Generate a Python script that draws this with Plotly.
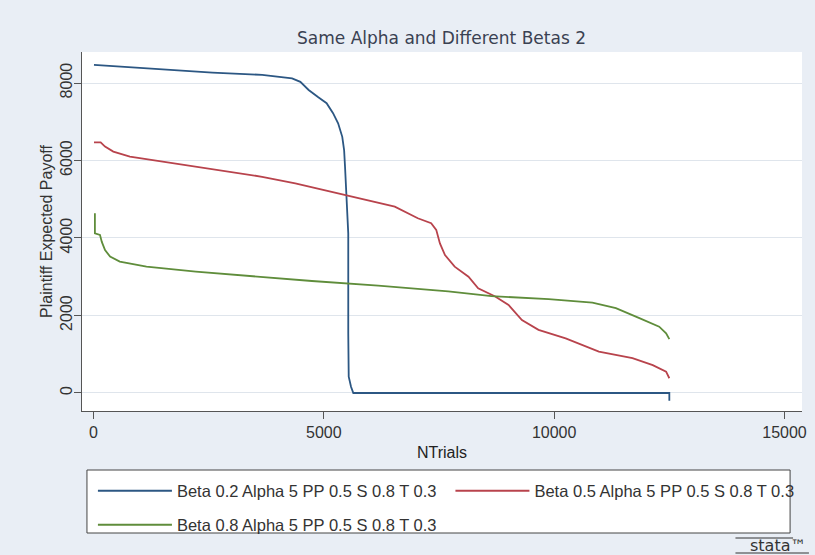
import plotly.graph_objects as go

# Plaintiff expected payoff by number of trials, three beta settings
ntrials_b02 = [10, 1150, 2580, 3660, 4310, 4490, 4670, 4880, 5060, 5200, 5310, 5400,
               5440, 5460, 5480, 5490, 5510, 5530, 5530, 5540, 5590, 5640, 12500, 12500]
payoff_b02 = [8470, 8380, 8270, 8210, 8120, 8030, 7820, 7630, 7480, 7220, 6960, 6610,
              6270, 5840, 5320, 4980, 4720, 4120, 1540, 420, 160, 0, 0, -200]

ntrials_b05 = [10, 155, 250, 430, 790, 1500, 2580, 3660, 4380, 5460, 6540, 7040, 7330,
               7440, 7520, 7630, 7840, 8140, 8350, 8720, 9010, 9300, 9660, 10250,
               10970, 11700, 12140, 12430, 12500]
payoff_b05 = [6470, 6470, 6360, 6230, 6100, 5970, 5760, 5580, 5410, 5110, 4810, 4510,
              4380, 4210, 3860, 3560, 3260, 3000, 2700, 2490, 2270, 1880, 1630, 1410,
              1070, 900, 720, 550, 380]

ntrials_b08 = [30, 30, 140, 180, 250, 360, 570, 1150, 2220, 3300, 4740, 6180, 6610,
               7700, 8640, 9880, 10830, 11340, 11850, 12280, 12430, 12500]
payoff_b08 = [4640, 4120, 4080, 3900, 3690, 3520, 3390, 3260, 3130, 3020, 2890, 2770,
              2730, 2620, 2500, 2420, 2330, 2190, 1930, 1710, 1540, 1390]

series_names = [
    "Beta 0.2 Alpha 5 PP 0.5 S 0.8 T 0.3",
    "Beta 0.5 Alpha 5 PP 0.5 S 0.8 T 0.3",
    "Beta 0.8 Alpha 5 PP 0.5 S 0.8 T 0.3",
]
series_colors = ["#2C5783", "#B8434C", "#5F8D3B"]

x_ticks = [0, 5000, 10000, 15000]
y_ticks = [0, 2000, 4000, 6000, 8000]

W, H = 815, 555
L, R, T, B = 82, 8, 52, 144
PW, PH = W - L - R, H - T - B


def px_x(p):
    return (p - L) / PW


def px_y(p):
    return (H - B - p) / PH


fig = go.Figure()
series = [(ntrials_b02, payoff_b02), (ntrials_b05, payoff_b05), (ntrials_b08, payoff_b08)]
legend_ids = ["legend", "legend2", "legend3"]
for (xs, ys), name, color, lg in zip(series, series_names, series_colors, legend_ids):
    fig.add_trace(go.Scatter(x=xs, y=ys, mode="lines", name=name,
                             line=dict(color=color, width=1.8), legend=lg))

axis_font = dict(family="Liberation Sans, Arial, sans-serif", size=16, color="#333333")
legend_font = dict(family="Liberation Sans, Arial, sans-serif", size=16.5, color="#333333")


def legend_box(px_left, px_mid):
    return dict(orientation="h", x=px_x(px_left), xanchor="left", y=px_y(px_mid),
                yanchor="middle", bgcolor="rgba(0,0,0,0)", borderwidth=0,
                font=legend_font, itemwidth=74)


fig.update_layout(
    width=W, height=H,
    margin=dict(l=L, r=R, t=T, b=B, pad=0),
    paper_bgcolor="#E9EEF5",
    plot_bgcolor="#FFFFFF",
    title=dict(text="Same Alpha and Different Betas 2", x=px_x(444), xref="paper",
               xanchor="center", y=1 - 38 / H, yanchor="middle",
               font=dict(family="DejaVu Sans, Verdana, sans-serif", size=17, color="#3A4152")),
    xaxis=dict(range=[-250, 15380], tickvals=x_ticks, ticktext=[str(v) for v in x_ticks],
               ticks="outside", ticklen=7, tickcolor="#555555", showline=True,
               linecolor="#555555", linewidth=1, showgrid=False, zeroline=False,
               tickfont=axis_font,
               title=dict(text="NTrials", standoff=6,
                          font=dict(family="Liberation Sans, Arial, sans-serif", size=16,
                                    color="#222222"))),
    yaxis=dict(range=[-465, 8800], tickvals=y_ticks, ticktext=[str(v) for v in y_ticks],
               tickangle=-90, ticks="outside", ticklen=7, tickcolor="#555555",
               ticklabelstandoff=-4,
               showline=True, linecolor="#555555", linewidth=1, showgrid=True,
               gridcolor="#DFE5EC", gridwidth=1, zeroline=False, tickfont=axis_font,
               title=dict(text="Plaintiff Expected Payoff", standoff=0,
                          font=dict(family="Liberation Sans, Arial, sans-serif", size=16,
                                    color="#333333"))),
    legend=legend_box(93, 491),
    legend2=legend_box(453, 491),
    legend3=legend_box(93, 525),
    showlegend=True,
)

# legend frame
fig.add_shape(type="rect", xref="paper", yref="paper",
              x0=px_x(87), x1=px_x(795), y0=px_y(533), y1=px_y(470),
              line=dict(color="#444444", width=1), fillcolor="#FFFFFF", layer="below")

# Stata mark in the lower right corner
fig.add_annotation(text="stata™", xref="paper", yref="paper", x=px_x(814), y=px_y(545),
                   xanchor="right", yanchor="middle", showarrow=False,
                   font=dict(family="DejaVu Sans, sans-serif", size=16, color="#333333"))
fig.add_shape(type="line", xref="paper", yref="paper", x0=px_x(740), x1=px_x(814),
              y0=px_y(553), y1=px_y(553), line=dict(color="#333333", width=1))
fig.add_shape(type="line", xref="paper", yref="paper", x0=px_x(740), x1=px_x(798),
              y0=px_y(538), y1=px_y(538), line=dict(color="#333333", width=1))

fig.write_html("out.html")
